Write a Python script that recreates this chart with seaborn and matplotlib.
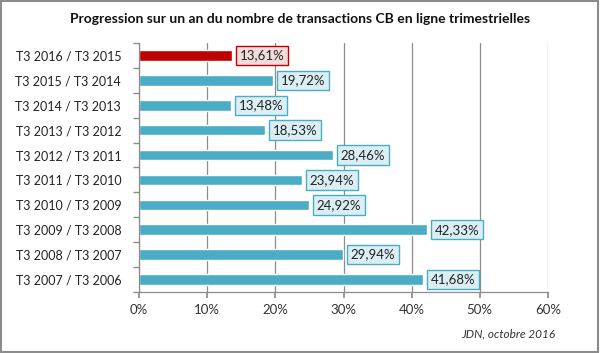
import matplotlib
matplotlib.use("Agg")
import matplotlib.pyplot as plt
import seaborn as sns
import pandas as pd
from matplotlib.ticker import FixedLocator, PercentFormatter

categories = ["T3 2016 / T3 2015", "T3 2015 / T3 2014", "T3 2014 / T3 2013",
              "T3 2013 / T3 2012", "T3 2012 / T3 2011", "T3 2011 / T3 2010",
              "T3 2010 / T3 2009", "T3 2009 / T3 2008", "T3 2008 / T3 2007",
              "T3 2007 / T3 2006"]
values = [13.61, 19.72, 13.48, 18.53, 28.46, 23.94, 24.92, 42.33, 29.94, 41.68]
x_ticks = [0, 10, 20, 30, 40, 50, 60]

df = pd.DataFrame({"cat": categories, "val": values})

sns.set_theme(style="white")
plt.rcParams['font.family'] = ['Lato', 'DejaVu Sans']

fig = plt.figure(figsize=(6, 3.53), dpi=100)
ax = fig.add_axes([0.232, 0.173, 0.681, 0.705])

teal = "#4bacc6"
red = "#c00000"
palette = [red] + [teal] * (len(categories) - 1)
sns.barplot(data=df, y="cat", x="val", hue="cat", palette=palette, legend=False,
            width=0.42, ax=ax, saturation=1)

ax.set_xlim(0, 60)
ax.set_ylim(len(categories) - 0.5, -0.5)
ax.xaxis.set_major_locator(FixedLocator(x_ticks))
ax.xaxis.set_major_formatter(PercentFormatter(decimals=0))
ax.grid(axis="x", color="#8c8c8c", linewidth=0.9)
ax.set_axisbelow(True)
for s in ["top", "right"]:
    ax.spines[s].set_visible(False)
for s in ["left", "bottom"]:
    ax.spines[s].set_color("#8c8c8c")
    ax.spines[s].set_linewidth(0.9)
ax.set_xlabel("")
ax.set_ylabel("")
ax.tick_params(axis="x", bottom=True, length=4, color="#8c8c8c", labelsize=9.5,
               labelcolor="#333333", pad=5)
ax.tick_params(axis="y", left=False, labelsize=9, labelcolor="#222222", pad=7)
ax.set_yticks([i + 0.5 for i in range(-1, len(categories))], minor=True)
ax.tick_params(axis="y", which="minor", left=True, length=4, color="#8c8c8c")

for i, v in enumerate(values):
    if i == 0:
        fc, ec = "#f2dcdb", red
    else:
        fc, ec = "#dbeef4", teal
    ax.text(v + 1.1, i, f"{v:.2f}%".replace(".", ","), va="center", ha="left",
            fontsize=9.5, color="#222222",
            bbox=dict(boxstyle="square,pad=0.28", fc=fc, ec=ec, lw=1))

fig.text(0.5, 0.945, "Progression sur un an du nombre de transactions CB en ligne trimestrielles",
         ha="center", va="center", fontsize=10, fontweight="bold", color="#111111")
fig.text(0.925, 0.055, "JDN, octobre 2016", ha="right", va="center", fontsize=8.5,
         style="italic", color="#333333")

border = plt.Rectangle((0.002, 0.003), 0.995, 0.994, transform=fig.transFigure,
                       fill=False, ec="#8c8c8c", lw=1.5)
fig.patches.append(border)

fig.savefig("out.png", dpi=100)
